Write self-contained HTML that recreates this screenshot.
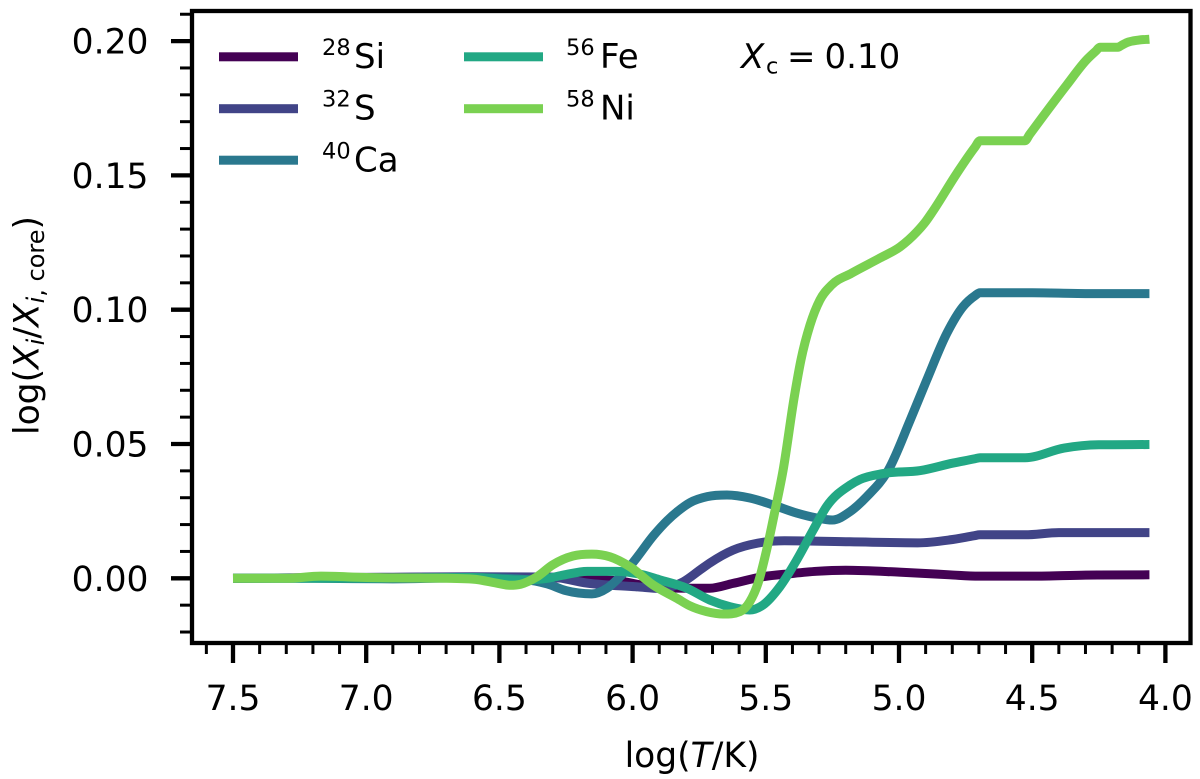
<!DOCTYPE html>
<html lang="en">
<head>
<meta charset="utf-8">
<title>Surface abundance profiles</title>
<style>
html,body{margin:0;padding:0;background:#fff;width:1200px;height:779px;overflow:hidden}
svg{display:block}
text{font-family:"DejaVu Sans",sans-serif;fill:#000}
.tick{font-size:34.5px}
.axis{font-size:34.5px}
.leg{font-size:34px}
.sup{font-size:22.5px}
</style>
</head>
<body>
<svg id="chart" width="1200" height="779" viewBox="0 0 1200 779" xmlns="http://www.w3.org/2000/svg">
  <rect width="1200" height="779" fill="#fff"/>
  <g id="marks"></g>
  <g id="ticks"></g>
  <rect x="192" y="11" width="998.5" height="632" fill="none" stroke="#000" stroke-width="4.3"/>

  <g>
    <g>
      <rect x="219" y="52.3" width="79" height="9" fill="#440154"/>
      <text class="sup" x="322" y="55">28</text><text class="leg" x="354" y="68">Si</text>
    </g>
    <g>
      <rect x="219" y="104.2" width="79" height="9" fill="#414487"/>
      <text class="sup" x="322" y="106.5">32</text><text class="leg" x="354" y="119.5">S</text>
    </g>
    <g>
      <rect x="219" y="155.7" width="79" height="9" fill="#2a788e"/>
      <text class="sup" x="322" y="158.5">40</text><text class="leg" x="354" y="171.5">Ca</text>
    </g>
    <g>
      <rect x="464" y="52.3" width="79" height="9" fill="#22a884"/>
      <text class="sup" x="566" y="55">56</text><text class="leg" x="600" y="68">Fe</text>
    </g>
    <g>
      <rect x="464" y="104.2" width="79" height="9" fill="#7ad151"/>
      <text class="sup" x="566" y="106.5">58</text><text class="leg" x="600" y="119.5">Ni</text>
    </g>
  </g>

  <g>
    <text class="leg" x="741" y="68" font-style="italic">X</text>
    <text class="sup" x="766" y="73.5">c</text>
    <text class="leg" x="787" y="68">=</text>
    <text class="leg" x="824.5" y="68">0.10</text>
  </g>

  <text class="axis" x="692" y="767" text-anchor="middle">log(<tspan font-style="italic">T</tspan>/K)</text>
  <text class="axis" transform="translate(38.5,325.5) rotate(-90)" text-anchor="middle">log(<tspan font-style="italic">X</tspan><tspan font-style="italic" font-size="24" dy="5.5">i</tspan><tspan dy="-5.5">/</tspan><tspan font-style="italic">X</tspan><tspan font-style="italic" font-size="24" dy="5.5">i</tspan><tspan font-size="24">, core</tspan><tspan dy="-5.5">)</tspan></text>
</svg>

<script>
// Tick values
const xMajorTicks = [7.5, 7.0, 6.5, 6.0, 5.5, 5.0, 4.5, 4.0];
const xMinorTicks = [7.6, 7.4, 7.3, 7.2, 7.1, 6.9, 6.8, 6.7, 6.6, 6.4, 6.3, 6.2, 6.1, 5.9, 5.8, 5.7, 5.6, 5.4, 5.3, 5.2, 5.1, 4.9, 4.8, 4.7, 4.6, 4.4, 4.3, 4.2, 4.1];
const xTickLabels = ["7.5", "7.0", "6.5", "6.0", "5.5", "5.0", "4.5", "4.0"];
const yMajorTicks = [0, 0.05, 0.10, 0.15, 0.20];
const yMinorTicks = [-0.02, -0.01, 0.01, 0.02, 0.03, 0.04, 0.06, 0.07, 0.08, 0.09, 0.11, 0.12, 0.13, 0.14, 0.16, 0.17, 0.18, 0.19, 0.21];
const yTickLabels = ["0.00", "0.05", "0.10", "0.15", "0.20"];

// Series data: log T and log(X_i / X_i,core)
const si28LogT = [7.5, 7.2, 6.9, 6.6, 6.4, 6.16, 6.05, 5.95, 5.85, 5.71, 5.623, 5.51, 5.41, 5.31, 5.2, 5.0, 4.81, 4.7, 4.5, 4.3, 4.06];
const si28Values = [0, 0.0002, 0.0003, 0.0005, 0.0004, -0.0003, -0.001, -0.0028, -0.0036, -0.0037, -0.0019, 0.0006, 0.0017, 0.0026, 0.003, 0.0023, 0.0013, 0.0008, 0.0008, 0.0012, 0.0013];

const s32LogT = [7.5, 7.2, 6.9, 6.6, 6.31, 6.17, 5.98, 5.897, 5.81, 5.747, 5.71, 5.623, 5.53, 5.43, 5.184, 4.93, 4.81, 4.72, 4.696, 4.527, 4.4, 4.06];
const s32Values = [0, 0.0002, 0.0004, 0.0006, 0.0005, -0.0018, -0.0032, -0.0038, -0.0013, 0.0031, 0.0057, 0.0105, 0.0131, 0.014, 0.0136, 0.0132, 0.0143, 0.0158, 0.0162, 0.0162, 0.017, 0.017];

const ca40LogT = [7.5, 7.2, 6.9, 6.6, 6.42, 6.32, 6.25, 6.153, 6.096, 6.047, 6.0, 5.92, 5.87, 5.83, 5.784, 5.72, 5.646, 5.56, 5.473, 5.384, 5.31, 5.25, 5.184, 5.12, 5.04, 4.958, 4.896, 4.82, 4.76, 4.715, 4.696, 4.5, 4.3, 4.06];
const ca40Values = [0, 0, -0.0002, 0.0002, -0.0003, -0.0021, -0.0046, -0.0058, -0.0037, 0.0006, 0.0057, 0.0161, 0.0215, 0.025, 0.0282, 0.0304, 0.031, 0.0299, 0.0273, 0.0243, 0.0225, 0.0217, 0.0248, 0.0305, 0.0403, 0.0589, 0.0738, 0.0913, 0.1011, 0.1052, 0.1063, 0.1063, 0.106, 0.106];

const fe56LogT = [7.5, 7.2, 6.9, 6.6, 6.42, 6.32, 6.26, 6.17, 6.06, 5.98, 5.897, 5.796, 5.71, 5.634, 5.56, 5.51, 5.447, 5.384, 5.322, 5.272, 5.184, 5.146, 5.06, 4.92, 4.797, 4.715, 4.696, 4.527, 4.38, 4.25, 4.06];
const fe56Values = [0, 0, 0.0001, 0.0003, -0.0006, 0, 0.0012, 0.0026, 0.0026, 0.0017, -0.0006, -0.0037, -0.0081, -0.0106, -0.0118, -0.0099, -0.0031, 0.0068, 0.018, 0.0267, 0.0347, 0.0368, 0.039, 0.0401, 0.0429, 0.0445, 0.0449, 0.0449, 0.0485, 0.0497, 0.0498];

const ni58LogT = [7.5, 7.3, 7.17, 7.0, 6.8, 6.6, 6.5, 6.46, 6.42, 6.36, 6.3, 6.224, 6.153, 6.085, 6.01, 5.923, 5.833, 5.784, 5.722, 5.66, 5.597, 5.56, 5.529, 5.497, 5.465, 5.435, 5.393, 5.368, 5.334, 5.297, 5.253, 5.178, 5.07, 4.996, 4.933, 4.9, 4.872, 4.782, 4.715, 4.696, 4.527, 4.51, 4.46, 4.37, 4.296, 4.26, 4.246, 4.178, 4.165, 4.146, 4.1, 4.06];
const ni58Values = [0, 0, 0.0008, 0.0003, 0.0001, -0.0003, -0.002, -0.0026, -0.0022, 0.0005, 0.005, 0.0083, 0.009, 0.008, 0.0043, -0.0025, -0.0075, -0.0103, -0.0124, -0.0133, -0.0124, -0.0087, -0.0018, 0.0105, 0.0254, 0.0403, 0.0676, 0.0813, 0.0943, 0.1036, 0.1092, 0.1136, 0.1193, 0.1234, 0.129, 0.1328, 0.1368, 0.1509, 0.1605, 0.1629, 0.1629, 0.1652, 0.1719, 0.1837, 0.193, 0.1964, 0.1977, 0.1977, 0.1984, 0.1994, 0.2004, 0.2007];

const NS = 'http://www.w3.org/2000/svg';

function xScale(v) { return 233 + (7.5 - v) * 266.4; }
function yScale(v) { return 578.3 - v * 2686; }

// Smooth cubic path through data points mapped through the axis functions
function linePath(xs, ys) {
  const px = xs.map(xScale), py = ys.map(yScale), n = px.length;
  const d = [], m = new Array(n);
  for (let i = 0; i < n - 1; i++) d.push((py[i + 1] - py[i]) / (px[i + 1] - px[i]));
  m[0] = d[0];
  m[n - 1] = d[n - 2];
  for (let i = 1; i < n - 1; i++) {
    if (d[i - 1] * d[i] <= 0) { m[i] = 0; continue; }
    const h0 = px[i] - px[i - 1], h1 = px[i + 1] - px[i];
    const avg = (h1 * d[i - 1] + h0 * d[i]) / (h0 + h1);
    const lim = 3 * Math.min(Math.abs(d[i - 1]), Math.abs(d[i]));
    m[i] = Math.sign(avg) * Math.min(Math.abs(avg), lim);
  }
  let path = 'M' + px[0].toFixed(2) + ' ' + py[0].toFixed(2);
  for (let i = 0; i < n - 1; i++) {
    const h = (px[i + 1] - px[i]) / 3;
    path += 'C' + (px[i] + h).toFixed(2) + ' ' + (py[i] + m[i] * h).toFixed(2) + ' ' +
      (px[i + 1] - h).toFixed(2) + ' ' + (py[i + 1] - m[i + 1] * h).toFixed(2) + ' ' +
      px[i + 1].toFixed(2) + ' ' + py[i + 1].toFixed(2);
  }
  return path;
}

const marks = document.getElementById('marks');
const ticks = document.getElementById('ticks');

function addSeries(name, xs, ys, color) {
  const p = document.createElementNS(NS, 'path');
  
  
  p.setAttribute('d', linePath(xs, ys));
  p.setAttribute('fill', 'none');
  p.setAttribute('stroke', color);
  p.setAttribute('stroke-width', '9');
  p.setAttribute('stroke-linejoin', 'round');
  marks.appendChild(p);
}

addSeries('series-si28', si28LogT, si28Values, '#440154');
addSeries('series-s32', s32LogT, s32Values, '#414487');
addSeries('series-ca40', ca40LogT, ca40Values, '#2a788e');
addSeries('series-fe56', fe56LogT, fe56Values, '#22a884');
addSeries('series-ni58', ni58LogT, ni58Values, '#7ad151');

function addTick(name, x1, y1, x2, y2, w) {
  const l = document.createElementNS(NS, 'line');
  
  
  l.setAttribute('x1', x1);
  l.setAttribute('y1', y1);
  l.setAttribute('x2', x2);
  l.setAttribute('y2', y2);
  l.setAttribute('stroke', '#000');
  l.setAttribute('stroke-width', w);
  ticks.appendChild(l);
}

function addLabel(name, txt, x, y, anchor) {
  const t = document.createElementNS(NS, 'text');
  
  
  t.setAttribute('class', 'tick');
  t.setAttribute('x', x);
  t.setAttribute('y', y);
  t.setAttribute('text-anchor', anchor);
  t.textContent = txt;
  ticks.appendChild(t);
}

xMajorTicks.forEach(function (v, i) {
  addTick('x-major-tick', xScale(v), 643, xScale(v), 663, 4.3);
  addLabel('x-tick-label', xTickLabels[i], xScale(v), 710, 'middle');
});
xMinorTicks.forEach(function (v) {
  addTick('x-minor-tick', xScale(v), 643, xScale(v), 654, 3);
});
yMajorTicks.forEach(function (v, i) {
  addTick('y-major-tick', 171, yScale(v), 192, yScale(v), 4.3);
  addLabel('y-tick-label', yTickLabels[i], 148.5, yScale(v) + 12.5, 'end');
});
yMinorTicks.forEach(function (v) {
  addTick('y-minor-tick', 180, yScale(v), 192, yScale(v), 3);
});
</script>
</body>
</html>
